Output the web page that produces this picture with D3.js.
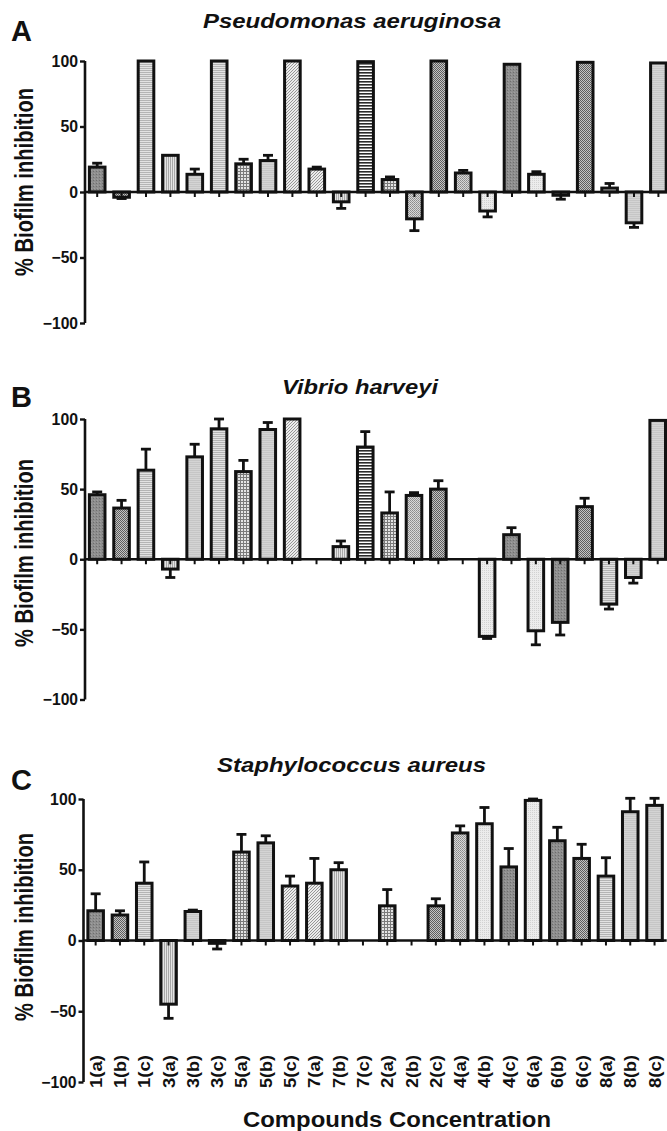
<!DOCTYPE html>
<html>
<head>
<meta charset="utf-8">
<script src="https://cdn.jsdelivr.net/npm/d3@7"></script>
<style>
  body { margin: 0; background: #fff; }
  text { font-family: "Liberation Sans", Arial, sans-serif; font-weight: bold; fill: #111; }
</style>
</head>
<body>
<svg id="chart" width="667" height="1131"></svg>
<script>
// compounds / concentrations on the x axis
var categories = ["1(a)", "1(b)", "1(c)", "3(a)", "3(b)", "3(c)", "5(a)", "5(b)", "5(c)",
                  "7(a)", "7(b)", "7(c)", "2(a)", "2(b)", "2(c)", "4(a)", "4(b)", "4(c)",
                  "6(a)", "6(b)", "6(c)", "8(a)", "8(b)", "8(c)"];
var yTicks = [-100, -50, 0, 50, 100];

// % biofilm inhibition (mean) and error (one sided, away from zero)
var pseudomonasValues = [19, -4, 100, 28, 13.5, 100, 21.5, 24, 100, 17.5, -7.5, 99.5,
                         9.5, -20.5, 100, 14.5, -14.5, 97.5, 13.5, -2.5, 99, 3, -23.5, 98.5];
var pseudomonasErrors = [3, 1, 0, 0, 4, 0, 3.5, 4, 0, 1.5, 5, 0,
                         2, 9, 0, 2, 4.5, 0, 2, 3, 0, 3.5, 3.5, 0];

var vibrioValues = [46, 36.5, 63.5, -7, 73, 93, 62.5, 92.5, 100, null, 9, 80,
                    33, 45.5, 50, null, -55, 17.5, -51, -45, 37.5, -32, -13, 99];
var vibrioErrors = [2, 5.5, 15, 6, 9, 7, 8, 5, 0, 0, 4, 11,
                    15, 2, 6, 0, 1.5, 5, 10, 9, 6, 3.5, 4, 0];

var staphValues = [21, 18, 40.5, -45, 20.5, -2, 62.5, 69, 38.5, 40.5, 50, null,
                   24.5, null, 24.5, 76, 82.5, 52, 99, 70.5, 58, 45.5, 91, 95.5];
var staphErrors = [12, 3, 15, 10, 1, 4, 12.5, 5, 7, 17.5, 5, 0,
                   11.5, 0, 5, 5, 11.5, 13, 1, 9.5, 10, 13, 9.5, 5];

// fill pattern used for each compound
var barFills = ["dark", "dotsDark", "hlines", "vlines", "light", "hlines", "grid", "light", "diag",
                "diag", "vlines", "stripes", "grid", "dotsMed", "dotsDark", "dotsMed", "vlight", "dark",
                "vlight", "dark", "dotsDark", "hlines", "light", "light"];

var panels = [
  {letter: "A", title: "Pseudomonas aeruginosa", values: pseudomonasValues, errors: pseudomonasErrors,
   axisX: 85, top: 61, bottom: 323, step: 24.4, titleX: 203, titleW: 298, titleY: 28, letterY: 41, labelY: 182},
  {letter: "B", title: "Vibrio harveyi", values: vibrioValues, errors: vibrioErrors,
   axisX: 85, top: 419, bottom: 699.5, step: 24.37, titleX: 282, titleW: 156, titleY: 394, letterY: 407, labelY: 553},
  {letter: "C", title: "Staphylococcus aureus", values: staphValues, errors: staphErrors,
   axisX: 83.5, top: 799, bottom: 1082, step: 24.3, titleX: 217, titleW: 269, titleY: 772, letterY: 790, labelY: 927}
];

var svg = d3.select("#chart");
var defs = svg.append("defs");

function makePattern(id, size, bg, marks) {
  var p = defs.append("pattern")
      .attr("id", id)
      .attr("patternUnits", "userSpaceOnUse")
      .attr("width", size)
      .attr("height", size);
  p.append("rect").attr("width", size).attr("height", size).attr("fill", bg);
  marks.forEach(function(m) {
    p.append("rect").attr("x", m[0]).attr("y", m[1]).attr("width", m[2]).attr("height", m[3]).attr("fill", m[4]);
  });
}

makePattern("dark", 3, "#8e8e8e", [[0, 0, 1, 1, "#6e6e6e"], [1, 2, 1, 1, "#a0a0a0"]]);
makePattern("dotsDark", 2, "#c4c4c4", [[0, 0, 1, 1, "#5e5e5e"], [1, 1, 1, 1, "#5e5e5e"]]);
makePattern("dotsMed", 2, "#d8d8d8", [[0, 0, 1, 1, "#8a8a8a"], [1, 1, 1, 1, "#9a9a9a"]]);
makePattern("grid", 3, "#e4e4e4", [[0, 0, 3, 1, "#7a7a7a"], [0, 0, 1, 3, "#7a7a7a"]]);
makePattern("hlines", 2, "#e2e2e2", [[0, 0, 2, 1, "#b4b4b4"]]);
makePattern("vlines", 2, "#e4e4e4", [[0, 0, 1, 2, "#a8a8a8"]]);
makePattern("light", 2, "#d4d4d4", [[0, 0, 2, 1, "#c6c6c6"]]);
makePattern("vlight", 2, "#ececec", [[0, 0, 1, 1, "#d2d2d2"]]);
makePattern("stripes", 3, "#ffffff", [[0, 0, 3, 1.6, "#2a2a2a"]]);
// diagonal hatch
var diag = defs.append("pattern")
    .attr("id", "diag")
    .attr("patternUnits", "userSpaceOnUse")
    .attr("width", 3).attr("height", 3);
diag.append("rect").attr("width", 3).attr("height", 3).attr("fill", "#ececec");
diag.append("path").attr("d", "M0,3L3,0M-1,1L1,-1M2,4L4,2").attr("stroke", "#8c8c8c").attr("stroke-width", 0.9);

panels.forEach(function(pn) {
  var g = svg.append("g");

  var x = d3.scaleBand()
      .domain(categories)
      .range([pn.axisX, pn.axisX + pn.step * categories.length])
      .paddingInner(0.36)
      .paddingOuter(0.18);

  var y = d3.scaleLinear()
      .domain([-100, 100])
      .range([pn.bottom, pn.top]);

  // bars
  var data = categories.map(function(c, i) {
    return {cat: c, value: pn.values[i], err: pn.errors[i], fill: barFills[i]};
  }).filter(function(d) { return d.value !== null; });

  // error bars first so the bar outline sits on top
  var eb = g.append("g")
      .attr("stroke", "#111")
      .attr("stroke-width", 2.8)
      .attr("fill", "none");
  data.filter(function(d) { return d.err > 0; }).forEach(function(d) {
    var cx = x(d.cat) + x.bandwidth() / 2;
    var end = d.value >= 0 ? d.value + d.err : d.value - d.err;
    eb.append("line").attr("x1", cx).attr("x2", cx).attr("y1", y(d.value)).attr("y2", y(end));
    eb.append("line").attr("x1", cx - 5).attr("x2", cx + 5).attr("y1", y(end)).attr("y2", y(end));
  });

  g.append("g").selectAll("rect")
    .data(data)
    .join("rect")
      .attr("x", function(d) { return x(d.cat); })
      .attr("width", x.bandwidth())
      .attr("y", function(d) { return y(Math.max(0, d.value)); })
      .attr("height", function(d) { return Math.abs(y(d.value) - y(0)); })
      .attr("fill", function(d) { return "url(#" + d.fill + ")"; })
      .attr("stroke", "#111")
      .attr("stroke-width", 3);

  // y axis
  var yAxis = d3.axisLeft(y).tickValues(yTicks).tickSize(5).tickPadding(2).tickFormat(d3.format("d"));
  var ya = g.append("g")
      .attr("transform", "translate(" + pn.axisX + ",0)")
      .call(yAxis);
  ya.select(".domain").attr("stroke", "#111").attr("stroke-width", 2.6).attr("d", "M0," + pn.top + "V" + pn.bottom);
  ya.selectAll(".tick line").attr("stroke", "#111").attr("stroke-width", 2.4);
  ya.selectAll(".tick text")
      .style("font-size", "16px")
      .style("font-weight", "bold")
      .attr("fill", "#111")
      .attr("textLength", function(d) { return String(d).length * 8.8; })
      .attr("lengthAdjust", "spacingAndGlyphs");

  // x axis at zero, running off the right edge
  var xAxis = d3.axisBottom(x).tickSize(5).tickFormat("");
  var xa = g.append("g")
      .attr("transform", "translate(0," + y(0) + ")")
      .call(xAxis);
  xa.select(".domain").attr("stroke", "#111").attr("stroke-width", 2.6)
      .attr("d", "M" + pn.axisX + ",0H" + (pn.axisX + pn.step * categories.length));
  xa.selectAll(".tick line").attr("stroke", "#111").attr("stroke-width", 2);

  // panel letter
  g.append("text")
      .attr("x", 11)
      .attr("y", pn.letterY)
      .style("font-size", "29px")
      .text(pn.letter);

  // title
  g.append("text")
      .attr("x", pn.titleX)
      .attr("y", pn.titleY)
      .attr("textLength", pn.titleW)
      .attr("lengthAdjust", "spacingAndGlyphs")
      .style("font-size", "21px")
      .style("font-style", "italic")
      .text(pn.title);

  // y axis label
  g.append("text")
      .attr("transform", "translate(33," + pn.labelY + ") rotate(-90)")
      .attr("text-anchor", "middle")
      .attr("textLength", 188)
      .attr("lengthAdjust", "spacingAndGlyphs")
      .style("font-size", "25px")
      .text("% Biofilm inhibition");

  // category labels only under the last panel
  if (pn.letter === "C") {
    g.append("g").selectAll("text")
      .data(categories)
      .join("text")
        .attr("transform", function(d) {
          return "translate(" + (x(d) + x.bandwidth() / 2 + 6) + "," + 1088 + ") rotate(-90)";
        })
        .attr("textLength", 33)
        .attr("lengthAdjust", "spacingAndGlyphs")
        .style("font-size", "17px")
        .text(function(d) { return d; });

    g.append("text")
        .attr("x", 243)
        .attr("y", 1127)
        .attr("textLength", 308)
        .attr("lengthAdjust", "spacingAndGlyphs")
        .style("font-size", "22px")
        .text("Compounds Concentration");
  }
});
</script>
</body>
</html>
